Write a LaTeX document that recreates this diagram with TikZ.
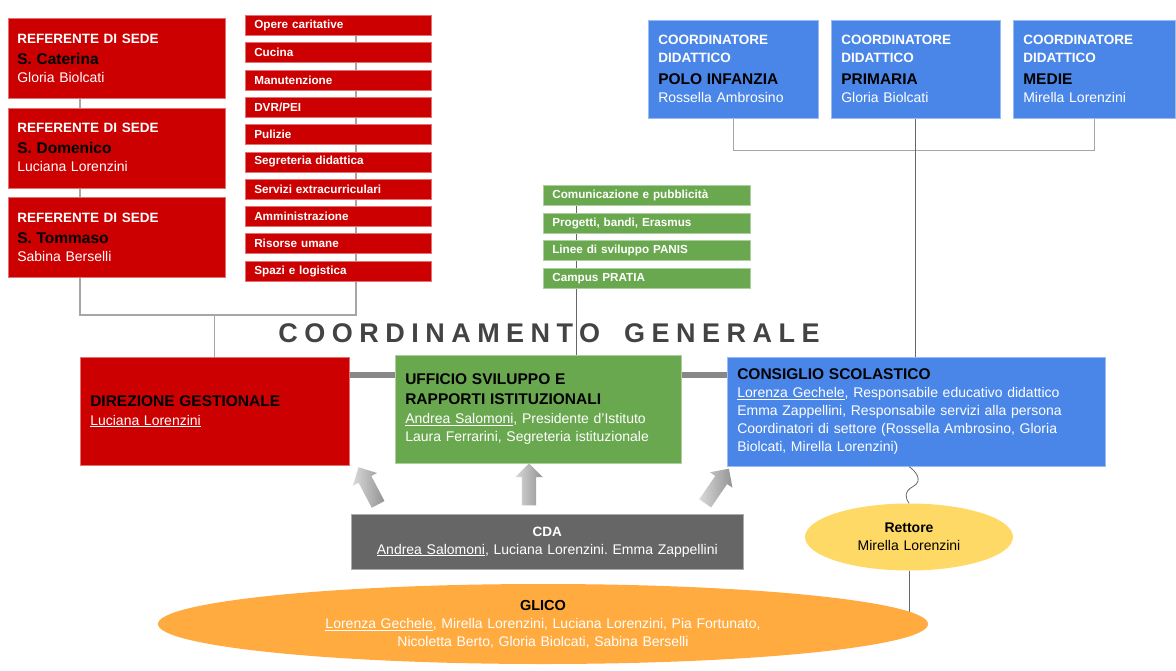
\documentclass[tikz,border=0pt]{standalone}
\usepackage{fontspec}
\setmainfont{Liberation Sans}
\usetikzlibrary{positioning,shapes.geometric,shapes.arrows,backgrounds}
\frenchspacing

\definecolor{rossoSede}{HTML}{CC0000}
\definecolor{verdeUff}{HTML}{6AA84F}
\definecolor{bluCons}{HTML}{4A86E8}
\definecolor{grigioCda}{HTML}{666666}
\definecolor{aranGlico}{HTML}{FFAB40}
\definecolor{gialloRet}{HTML}{FFD966}
\definecolor{grigioLinea}{HTML}{A6A6A6}
\definecolor{grigioBarra}{HTML}{888888}
\definecolor{grigioTitolo}{HTML}{434343}

\begin{document}
\begin{tikzpicture}[
        % 1 px = 1 pt, asse y verso il basso
        x={(1pt,0pt)},
        y={(0pt,-1pt)},
        box/.style={rectangle, anchor=north west, align=left, inner ysep=0pt, inner xsep=10pt, line width=0.6pt, font=\fontsize{14}{18}\selectfont},
        sede/.style={box, fill=rossoSede, draw=rossoSede!55!white, text width=199pt, inner xsep=9pt, minimum height=80pt},
        servizio/.style={box, fill=rossoSede, draw=rossoSede!55!white, text width=168pt, inner xsep=9pt, minimum height=20pt, text=white, font=\fontsize{11.7}{14}\selectfont\bfseries},
        attivita/.style={servizio, fill=verdeUff, draw=verdeUff!55!white, text width=189pt},
        coord/.style={box, fill=bluCons, draw=bluCons!55!white, minimum height=98pt},
        centrale/.style={box, minimum height=108pt},
        ovale/.style={ellipse, inner sep=0pt, align=center, font=\fontsize{14}{18}\selectfont},
        freccia/.style={single arrow, draw=none, inner xsep=0pt, inner ysep=7pt, minimum height=42pt, single arrow head extend=6.5pt, single arrow head indent=0pt, left color=gray!30, right color=gray!85},
        conn/.style={draw=grigioLinea, line width=1.3pt},
        filo/.style={draw=black!60, line width=0.8pt},
        barra/.style={draw=grigioBarra, line width=6pt}
    ]

        % --- parametri ---
        \def\busY{315}      % quota della linea sotto i box rossi
        \def\fCap{\fontsize{13.5}{18}\selectfont\bfseries\color{white}}
        \def\fHead{\fontsize{15.5}{18}\selectfont\bfseries\color{black}}
        \def\fPers{\fontsize{14}{18}\selectfont\mdseries\color{white}}

        \useasboundingbox (0,0) rectangle (1176,670);

        % --- 1. referenti di sede ---
        \foreach \i/\nome/\pers in {1/S. Caterina/Gloria Biolcati, 2/S. Domenico/Luciana Lorenzini, 3/S. Tommaso/Sabina Berselli} {
            \node[sede] (sede\i) at (8, {18+(\i-1)*89.5}) {\fCap REFERENTE DI SEDE\\[3pt] \fHead \nome\\ \fPers \pers\\[-4pt]};
        }

        % --- 2. servizi (colonna rossa) ---
        \foreach \txt [count=\i] in {Opere caritative, Cucina, Manutenzione, DVR/PEI, Pulizie, Segreteria didattica, Servizi extracurriculari, Amministrazione, Risorse umane, Spazi e logistica} {
            \node[servizio] (serv\i) at (245, {15+(\i-1)*27.3}) {\txt};
        }

        % --- 3. attivita' dell'ufficio (colonna verde) ---
        \foreach \txt [count=\i] in {Comunicazione e pubblicità, {Progetti, bandi, Erasmus}, Linee di sviluppo PANIS, Campus PRATIA} {
            \node[attivita] (att\i) at (543, {185+(\i-1)*27.7}) {\txt};
        }

        % --- 4. coordinatori didattici ---
        \foreach \i/\x/\w/\sett/\pers in {1/648/170/POLO INFANZIA/Rossella Ambrosino, 2/831/169/PRIMARIA/Gloria Biolcati, 3/1013/162/MEDIE/Mirella Lorenzini} {
            \pgfmathsetmacro{\tw}{\w-20}
            \node[coord, text width=\tw pt] (coord\i) at (\x,20) {\fCap COORDINATORE\\ DIDATTICO\\[4pt] \fHead \sett\\ \fPers \pers\\[-4pt]};
        }

        % --- 5. titolo ---
        \node[font=\fontsize{27}{30}\selectfont\bfseries\addfontfeature{LetterSpace=24}, text=grigioTitolo] (titolo) at (549,333) {COORDINAMENTO\hspace{10pt} GENERALE};

        % --- 6. riga centrale ---
        \node[centrale, fill=rossoSede, draw=rossoSede!55!white, text width=249pt] (direzione) at (80,357) {\fHead DIREZIONE GESTIONALE\\[1pt] \fPers \underline{Luciana Lorenzini}\\[-4pt]};
        \node[centrale, fill=verdeUff, draw=verdeUff!55!white, text width=266pt] (ufficio) at (395,355) {\fHead UFFICIO SVILUPPO E\\[2pt] RAPPORTI ISTITUZIONALI\\[1pt] \fPers \underline{Andrea Salomoni}, Presidente d’Istituto\\ Laura Ferrarini, Segreteria istituzionale\\[-4pt]};
        \node[centrale, fill=bluCons, draw=bluCons!55!white, text width=358pt, minimum height=109pt] (consiglio) at (727,357) {\fHead CONSIGLIO SCOLASTICO\\ \fPers \underline{Lorenza Gechele}, Responsabile educativo didattico\\ Emma Zappellini, Responsabile servizi alla persona\\ Coordinatori di settore (Rossella Ambrosino, Gloria\\ Biolcati, Mirella Lorenzini)\\[-4pt]};

        % --- 7. CDA, frecce, rettore, GLICO ---
        \node[box, fill=grigioCda, draw=grigioCda!55!white, align=center, text width=372pt, minimum height=55pt] (cda) at (351,514) {\fCap CDA\\ \fPers \underline{Andrea Salomoni}, Luciana Lorenzini. Emma Zappellini};

        \node[freccia, rotate=117.8] (frecciaSx) at (370,489) {};
        \node[freccia, rotate=90] (frecciaCe) at (529,488) {};
        \node[freccia, rotate=55.6] (frecciaDx) at (715,489) {};

        \node[ovale, fill=gialloRet, minimum width=208pt, minimum height=67pt, text width=140pt] (rettore) at (909,537) {\bfseries Rettore\\ \mdseries Mirella Lorenzini};
        \node[ovale, fill=aranGlico, minimum width=770pt, minimum height=80pt, text width=500pt] (glico) at (543,624) {\fontsize{14.5}{18}\selectfont\bfseries GLICO\\ \fPers \underline{Lorenza Gechele}, Mirella Lorenzini, Luciana Lorenzini, Pia Fortunato,\\ Nicoletta Berto, Gloria Biolcati, Sabina Berselli};

        % --- 8. collegamenti (dietro ai box) ---
        \begin{scope}[on background layer]
            \coordinate (busL) at (80,\busY);
            \coordinate (busR) at (356,\busY);
            \coordinate (busV) at (576,200);
            \coordinate (barY) at (0,375);
            \draw[conn] (sede1.south -| busL) -- (busL) -- (busR) -- (serv1.north -| busR);
            \draw[conn] (direzione.north |- busL) -- (direzione.north);
            \draw[filo] (att1.north -| busV) -- (ufficio.north -| busV);
            \draw[conn] (coord1.south) -- ++(0,32) -| (coord3.south);
            \draw[filo] (coord2.south) -- (coord2.south |- consiglio.north);
            \draw[barra] (direzione.east |- barY) -- (ufficio.west |- barY);
            \draw[barra] (ufficio.east |- barY) -- (consiglio.west |- barY);
            \draw[filo] (rettore.south) -- (rettore.south |- glico.center);
        \end{scope}

        % filo ondulato consiglio -> rettore
        \draw[filo] (consiglio.south -| rettore.north) .. controls +(6,4) and +(11,-6) .. ++(4,20) .. controls +(-10,5) and +(-3,-4) .. (rettore.north);

    \end{tikzpicture}
\end{document}
